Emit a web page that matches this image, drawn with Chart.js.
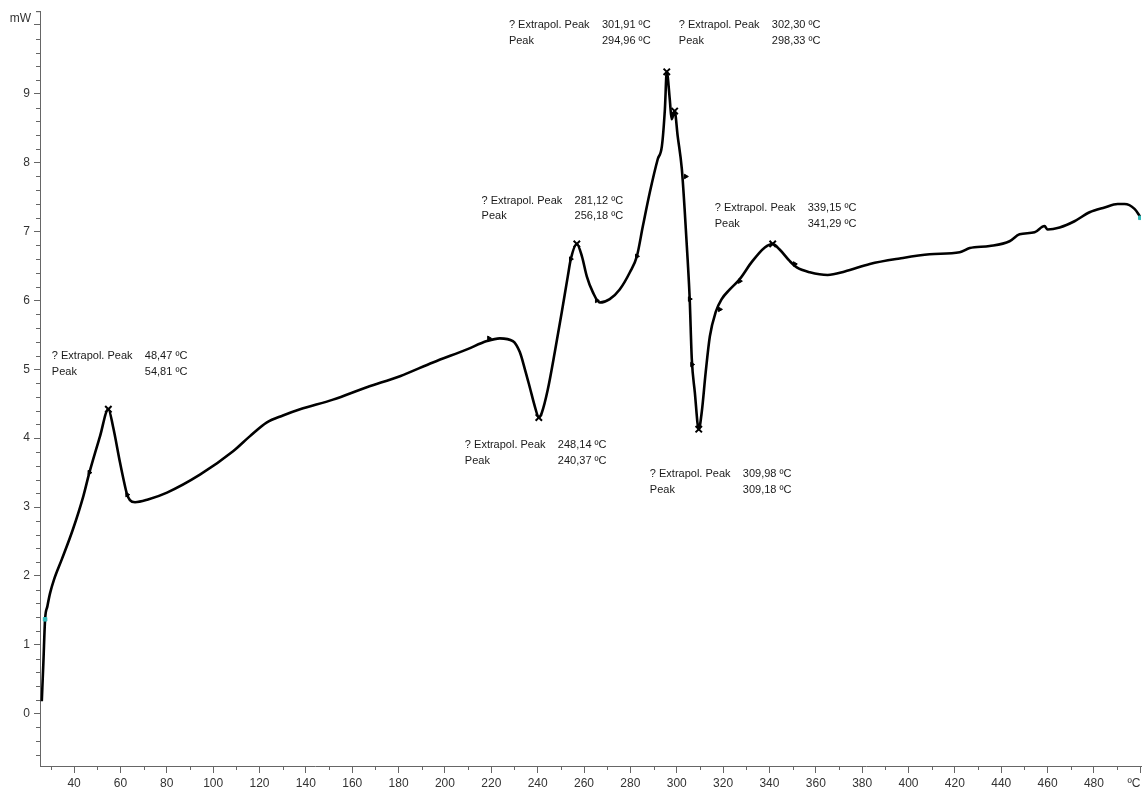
<!DOCTYPE html>
<html>
<head>
<meta charset="utf-8">
<script src="https://cdn.jsdelivr.net/npm/chart.js@4/dist/chart.umd.min.js"></script>
<style>
  body { margin: 0; background: #fff; overflow: hidden; }
  #wrap { width: 1143px; height: 790px; }
  canvas { display: block; }
</style>
</head>
<body>
<div id="wrap"><canvas id="dscChart"></canvas></div>
<script>
// DSC curve (temperature in °C, heat flow in mW)
const temps = [26.07, 26.76, 27.49, 28.49, 29.65, 31.38, 34.70, 39.44, 44.01, 46.60, 51.21, 54.79, 56.8, 59.8, 61.6, 62.9, 64.1, 66.3,
  71.9, 80.1, 94.3, 108.6, 115.9, 123.2, 130.1, 137.5,
  151.7, 166.3, 180.6, 194.8, 209.5, 218.1, 223.7, 229.3, 232.3, 234.5, 236.6, 238.8, 240.5, 241.8, 244.4, 247.4, 250.4, 253.0, 254.3,
  256.9, 259.1, 261.2, 263.8, 266.8, 271.1, 275.4, 279.8, 282.8, 285.4, 288.4, 291.8, 293.6, 294.9, 295.7, 297.0, 297.8, 299.1, 300.4, 302.2,
  303.4, 304.7, 305.6, 306.5, 307.8, 309.5, 310.8, 312.5, 314.3, 316.8, 319.4, 322.9, 327.2, 332.4, 338.0, 341.4, 344.4, 348.8, 351.8, 357.4,
  365.1, 372.5, 383.3, 396.2, 409.1, 422.1, 426.4, 435.0, 443.6, 447.9, 454.4, 458.7, 460.0, 465.2, 471.6, 478.1, 484.6, 490.2, 493.2, 497.5, 500.1];
const heatFlow = [0.18, 0.74, 1.37, 1.56, 1.75, 1.95, 2.24, 2.67, 3.16, 3.50, 4.03, 4.42, 4.17, 3.65, 3.36, 3.18, 3.10, 3.07,
  3.11, 3.21, 3.47, 3.81, 4.03, 4.23, 4.33, 4.42,
  4.56, 4.74, 4.90, 5.10, 5.29, 5.41, 5.45, 5.41, 5.25, 5.00, 4.74, 4.46, 4.30, 4.37, 4.71, 5.25, 5.83, 6.35, 6.60,
  6.82, 6.64, 6.35, 6.12, 5.97, 6.02, 6.16, 6.41, 6.64, 7.08, 7.57, 8.05, 8.24, 8.78, 9.32, 8.92, 8.63, 8.75, 8.39, 7.91,
  7.33, 6.60, 6.02, 5.15, 4.67, 4.13, 4.38, 4.96, 5.48, 5.83, 6.02, 6.16, 6.31, 6.56, 6.77, 6.82, 6.74, 6.57, 6.48, 6.41,
  6.37, 6.42, 6.53, 6.61, 6.67, 6.70, 6.76, 6.79, 6.86, 6.96, 6.99, 7.08, 7.03, 7.06, 7.15, 7.28, 7.35, 7.40, 7.40, 7.33, 7.21];

// peak markers (x) on the curve
const peakT = [54.79, 240.5, 256.9, 295.7, 299.1, 309.5, 341.4];
const peakMW = [4.42, 4.30, 6.82, 9.32, 8.75, 4.13, 6.82];

// small evaluation flags along the curve
const flagT = [46.6, 62.9, 219.0, 254.3, 265.5, 282.8, 303.9, 305.6, 306.6, 318.6, 327.2, 350.9];
const flagMW = [3.50, 3.18, 5.45, 6.60, 6.00, 6.64, 7.80, 6.02, 5.07, 5.87, 6.28, 6.53];

// cyan range limits
const limitT = [27.49, 500.0];
const limitMW = [1.37, 7.20];

// annotation text, anchored at (T, mW) of the first line
const noteT = [30.4, 215.8, 227.6, 300.9, 316.4, 208.6, 288.4];
const noteMW = [5.19, 7.45, 10.0, 10.0, 7.34, 3.90, 3.48];
const noteExtrapol = ['48,47 ºC', '281,12 ºC', '301,91 ºC', '302,30 ºC', '339,15 ºC', '248,14 ºC', '309,98 ºC'];
const notePeak = ['54,81 ºC', '256,18 ºC', '294,96 ºC', '298,33 ºC', '341,29 ºC', '240,37 ºC', '309,18 ºC'];

const FONT = '"Liberation Sans", Arial, sans-serif';
const toPoints = (xs, ys) => xs.map((x, i) => ({ x: x, y: ys[i] }));

// minor ticks + unit labels + peak annotations
const dscExtras = {
  id: 'dscExtras',
  afterDraw(chart) {
    const ctx = chart.ctx;
    const xs = chart.scales.x;
    const ys = chart.scales.y;
    const area = chart.chartArea;
    ctx.save();
    ctx.strokeStyle = '#666';
    ctx.lineWidth = 1;
    ctx.beginPath();
    for (let v = 30; v <= 500; v += 20) {
      const px = Math.round(xs.getPixelForValue(v)) + 0.5;
      ctx.moveTo(px, area.bottom);
      ctx.lineTo(px, area.bottom + 4);
    }
    for (let k = -3; k <= 51; k++) {
      if (k % 5 === 0) continue;
      const v = k * 0.2;
      const py = Math.round(ys.getPixelForValue(v)) + 0.5;
      if (py < area.top || py > area.bottom) continue;
      ctx.moveTo(area.left - 4, py);
      ctx.lineTo(area.left, py);
    }
    // little cap at top of the y axis
    ctx.moveTo(area.left - 4, area.top + 0.5);
    ctx.lineTo(area.left, area.top + 0.5);
    ctx.stroke();

    ctx.fillStyle = '#333';
    ctx.font = '12px ' + FONT;
    ctx.textBaseline = 'middle';
    ctx.textAlign = 'right';
    ctx.fillText('mW', area.left - 9, area.top + 7);
    ctx.textAlign = 'center';
    ctx.fillText('ºC', area.right - 7, area.bottom + 18);

    ctx.fillStyle = '#1a1a1a';
    ctx.font = '11px ' + FONT;
    ctx.textAlign = 'left';
    noteT.forEach((t, i) => {
      const px = xs.getPixelForValue(t);
      const py = ys.getPixelForValue(noteMW[i]);
      ctx.fillText('? Extrapol. Peak', px, py);
      ctx.fillText(noteExtrapol[i], px + 93, py);
      ctx.fillText('Peak', px, py + 15.6);
      ctx.fillText(notePeak[i], px + 93, py + 15.6);
    });
    ctx.restore();
  }
};

new Chart(document.getElementById('dscChart'), {
  type: 'line',
  data: {
    datasets: [
      {
        label: 'DSC',
        data: toPoints(temps, heatFlow),
        borderColor: '#000',
        borderWidth: 2.6,
        pointRadius: 0,
        cubicInterpolationMode: 'monotone',
        fill: false,
        order: 3
      },
      {
        label: 'flags',
        type: 'scatter',
        data: toPoints(flagT, flagMW),
        pointStyle: 'triangle',
        rotation: 90,
        pointRadius: 2.6,
        backgroundColor: '#000',
        borderColor: '#000',
        borderWidth: 1,
        order: 2
      },
      {
        label: 'peaks',
        type: 'scatter',
        data: toPoints(peakT, peakMW),
        pointStyle: 'crossRot',
        pointRadius: 4.5,
        borderColor: '#000',
        borderWidth: 2,
        order: 1
      },
      {
        label: 'limits',
        type: 'scatter',
        data: toPoints(limitT, limitMW),
        pointStyle: 'rect',
        pointRadius: 2.5,
        backgroundColor: '#2fb8b8',
        borderColor: '#2fb8b8',
        order: 0
      }
    ]
  },
  options: {
    responsive: true,
    maintainAspectRatio: false,
    animation: false,
    layout: { autoPadding: false, padding: { top: 11, right: 2, left: 0, bottom: 0 } },
    plugins: {
      legend: { display: false },
      tooltip: { enabled: false }
    },
    scales: {
      x: {
        type: 'linear',
        min: 25.3,
        max: 500.3,
        afterFit: (scale) => {
          scale.height = 24;
          scale.paddingLeft = 0;
          scale.paddingRight = 0;
        },
        border: { display: true, color: '#666', width: 1 },
        grid: { drawOnChartArea: false, drawTicks: true, tickLength: 7, color: '#666' },
        ticks: {
          stepSize: 20,
          includeBounds: false,
          maxRotation: 0,
          autoSkip: false,
          padding: 3,
          color: '#333',
          font: { family: FONT, size: 12 },
          callback: (v) => (v === 500 ? '' : v)
        }
      },
      y: {
        type: 'linear',
        min: -0.76,
        max: 10.2,
        afterFit: (scale) => { scale.width = 40; },
        border: { display: true, color: '#666', width: 1 },
        grid: { drawOnChartArea: false, drawTicks: true, tickLength: 6, color: '#666' },
        ticks: {
          stepSize: 1,
          includeBounds: false,
          padding: 4,
          color: '#333',
          font: { family: FONT, size: 12 },
          callback: (v) => (v === 10 ? '' : v)
        }
      }
    }
  },
  plugins: [dscExtras]
});
</script>
</body>
</html>
